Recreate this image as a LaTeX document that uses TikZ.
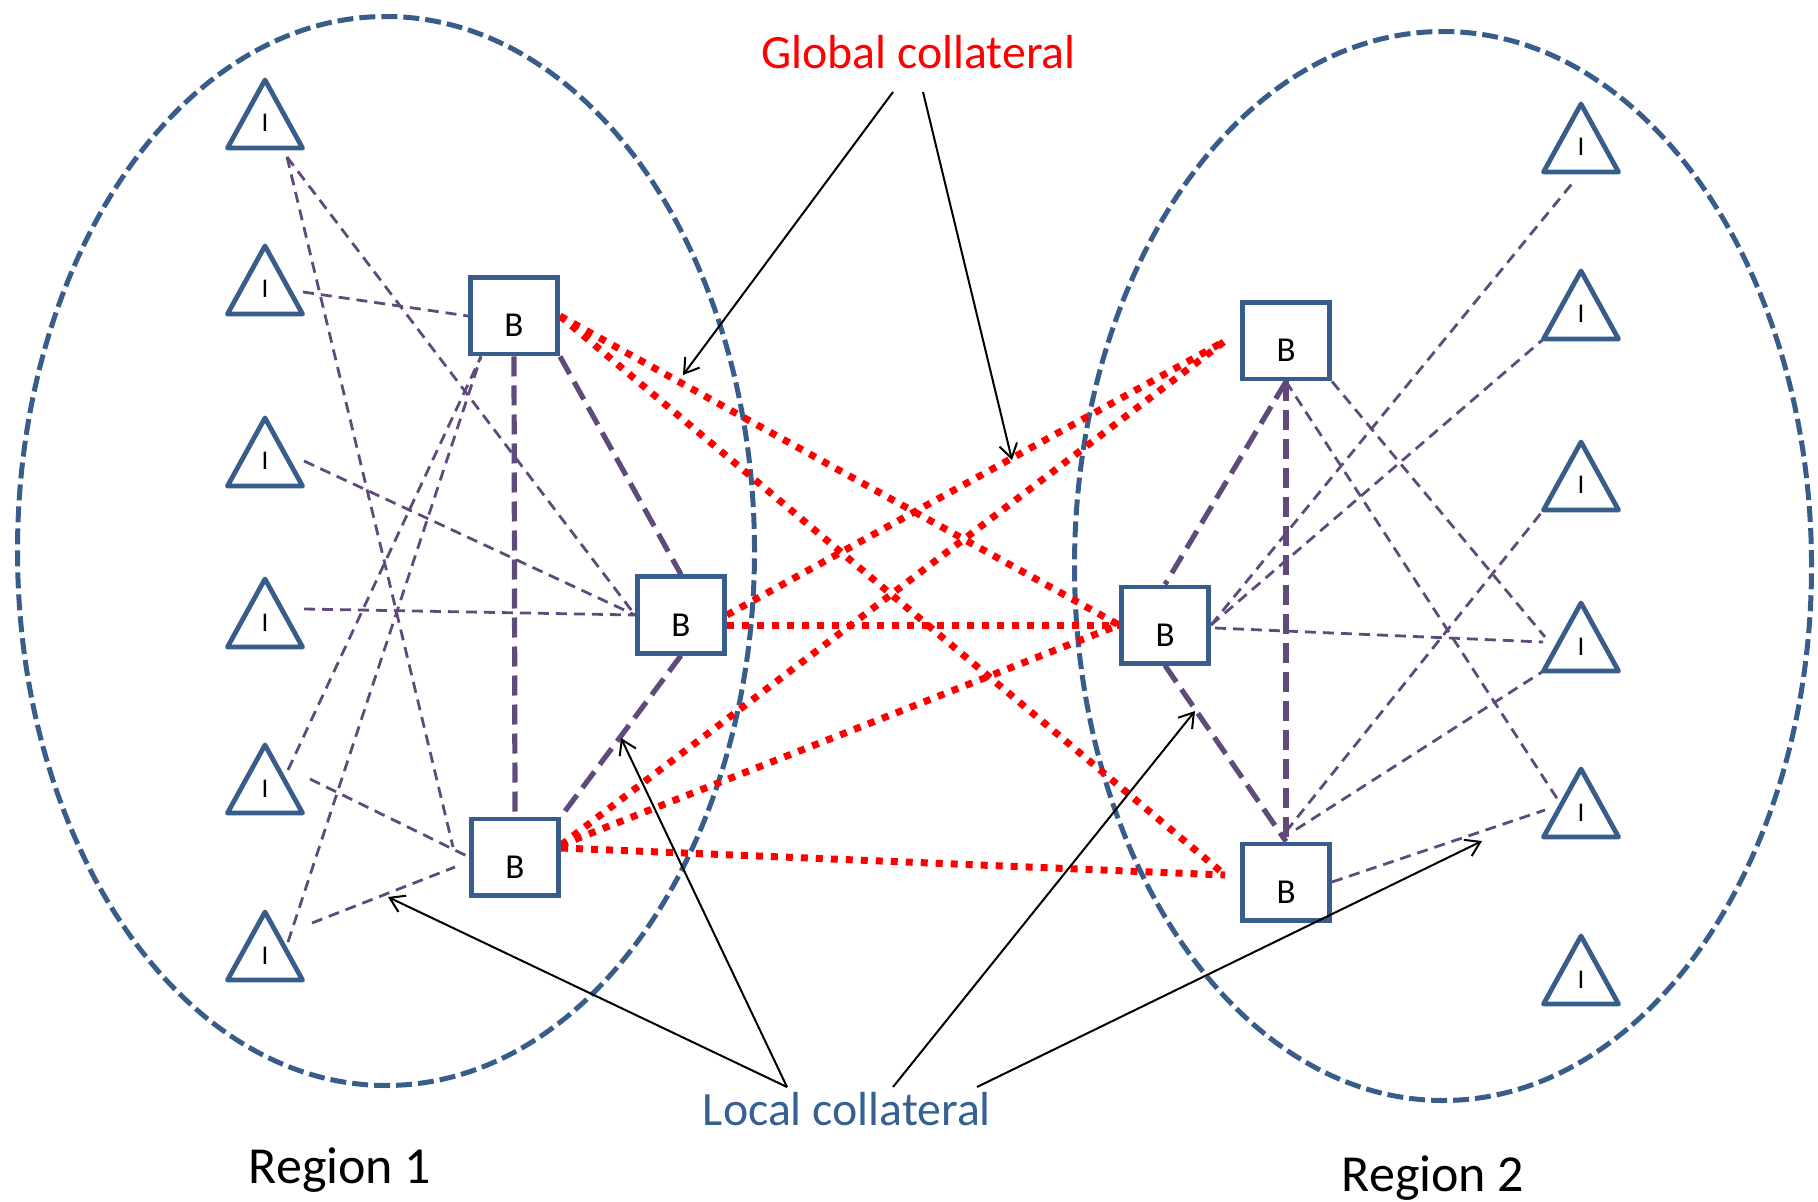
\documentclass[tikz,border=0pt]{standalone}
\usepackage{fontspec}
\setmainfont{Carlito}
\usetikzlibrary{calc,arrows.meta}
\pgfdeclarelayer{bg}
\pgfdeclarelayer{edges}
\pgfsetlayers{bg,edges,main}
\definecolor{outline}{RGB}{56,93,138}
\definecolor{purp}{RGB}{96,74,123}
\definecolor{localblue}{RGB}{55,96,146}
\definecolor{globalred}{RGB}{255,0,0}
\begin{document}
\begin{tikzpicture}[x=0.5pt,y=-0.5pt,
  regionline/.style={draw=outline, line width=2.5pt, dash pattern=on 8pt off 3pt},
  bbox/.style={draw=outline, line width=2.4pt, fill=white, minimum width=43.6pt, minimum height=38.1pt, inner sep=0pt},
  btext/.style={anchor=base, inner sep=0pt, font=\fontsize{17.5pt}{20pt}\selectfont},
  trinode/.style={minimum width=37.5pt, minimum height=34pt, inner sep=0pt, outer sep=0pt},
  triline/.style={draw=outline, line width=2.4pt, line join=round, fill=white},
  itext/.style={anchor=base, inner sep=0pt, font=\fontsize{13.5pt}{16pt}\selectfont},
  linkthin/.style={draw=purp, line width=1.4pt, dash pattern=on 5.5pt off 3.5pt},
  linklocal/.style={draw=purp, line width=2.6pt, dash pattern=on 10pt off 4.5pt},
  linkglobal/.style={draw=globalred, line width=3.5pt, dash pattern=on 3.5pt off 4pt},
  callout/.style={draw=black, line width=1pt, -{Straight Barb[length=7pt,width=9pt]}},
  bigtext/.style={anchor=base, inner sep=0pt, font=\fontsize{23.9pt}{28pt}\selectfont},
  regtext/.style={anchor=base, inner sep=0pt, font=\fontsize{26pt}{30pt}\selectfont}]
\useasboundingbox (0,0) rectangle (1818,1202);

% the two regions
\begin{pgfonlayer}{bg}
  \draw[regionline] (386,551) ellipse [x radius=184.25pt, y radius=267.25pt];
  \draw[regionline] (1443,566) ellipse [x radius=184.25pt, y radius=267.25pt];
\end{pgfonlayer}

% banks
\foreach \n/\x/\y in {B1/514/316, B2/681/615, B3/515/857, B4/1286/341, B5/1165/625, B6/1286/882} {
  \node[bbox] (\n) at (\x,\y) {};
  \node[btext] (\n t) at ($(\n.center)+(0,21)$) {B};
}

% institutions
\foreach \n/\x/\y in {L1/265/114, L2/265/280, L3/265/452, L4/265/613, L5/265/779, L6/265/946,
                      R1/1581/138, R2/1581/305, R3/1581/476, R4/1581/637, R5/1581/803, R6/1581/970} {
  \node[trinode] (\n) at (\x,\y) {};
  \draw[triline] (\n.south west) -- (\n.north) -- (\n.south east) -- cycle;
  \node[itext] (\n t) at ($(\n.north)+(0,52)$) {I};
}

\begin{pgfonlayer}{edges}
  % region 1: institutions to banks
  \draw[linkthin] ($(L1.south)+(22,9)$) -- (B2.west);
  \draw[linkthin] ($(L1.south)+(22,9)$) -- ($(B3.west)+(-16,-10)$);
  \draw[linkthin] ($(L2.center)+(38,12)$) -- (B1.west);
  \draw[linkthin] ($(L3.center)+(39,9)$) -- (B2.west);
  \draw[linkthin] ($(L4.center)+(39,-4)$) -- (B2.west);
  \draw[linkthin] ($(L5.center)+(23,-9)$) -- ($(B1.south west)+(13,0)$);
  \draw[linkthin] ($(L5.center)+(45,0)$) -- (B3.west);
  \draw[linkthin] ($(L6.center)+(23,-4)$) -- ($(B1.south west)+(13,0)$);
  \draw[linkthin] ($(L6.center)+(47,-23)$) -- ($(B3.west)+(-14,10)$);
  % region 2: banks to institutions
  \draw[linkthin] (B5.east) -- ($(R1.south)+(-6,8)$);
  \draw[linkthin] (B5.east) -- (R2.south west);
  \draw[linkthin] ($(B5.east)+(4,3)$) -- ($(R4.center)+(-38,5)$);
  \draw[linkthin] (B4.south east) -- ($(R4.center)+(-36,0)$);
  \draw[linkthin] (B4.south) -- ($(R5.center)+(-23,-3)$);
  \draw[linkthin] ($(B6.north)+(0,-10)$) -- (R3.south west);
  \draw[linkthin] ($(B6.north)+(10,-12)$) -- (R4.south west);
  \draw[linkthin] (B6.east) -- ($(R5.center)+(-36,7)$);
  % local links between banks
  \draw[linklocal] (B1.south) -- (B3.north);
  \draw[linklocal] (B1.south east) -- (B2.north);
  \draw[linklocal] (B2.south) -- (B3.north east);
  \draw[linklocal] (B4.south) -- (B5.north);
  \draw[linklocal] (B4.south) -- (B6.north);
  \draw[linklocal] (B5.south) -- (B6.north);
  % global links across regions
  \draw[linkglobal] (B1.east) -- (B5.west);
  \draw[linkglobal] (B1.east) -- ($(B6.west)+(-15,-7)$);
  \draw[linkglobal] (B2.east) -- ($(B4.west)+(-15,0)$);
  \draw[linkglobal] ($(B2.east)+(0,10)$) -- (B5.west);
  \draw[linkglobal] ($(B3.east)+(0,-12)$) -- ($(B4.west)+(-15,0)$);
  \draw[linkglobal] ($(B3.east)+(0,-12)$) -- (B5.west);
  \draw[linkglobal] ($(B3.east)+(0,-9)$) -- ($(B6.west)+(-15,-7)$);
\end{pgfonlayer}

% labels
\node[bigtext, text=globalred] (gc) at (918.5,69) {Global collateral};
\node[bigtext, text=localblue] (lc) at (847,1125) {Local collateral};
\node[regtext] (r1) at (340,1183) {Region 1};
\node[regtext] (r2) at (1433,1191) {Region 2};

% callout targets
\coordinate (g1) at (683,375);
\coordinate (g2) at (1012,460);
\coordinate (l1) at (388,897);
\coordinate (l2) at (621,738);
\coordinate (l3) at (1195,711);
\coordinate (l4) at (1482,841);

\draw[callout] ($(gc.base)+(-25.5,23)$) -- (g1);
\draw[callout] ($(gc.base)+(4.5,23)$) -- (g2);
\draw[callout] ($(lc.base)+(-60,-38)$) -- (l1);
\draw[callout] ($(lc.base)+(-60,-38)$) -- (l2);
\draw[callout] ($(lc.base)+(46,-38)$) -- (l3);
\draw[callout] ($(lc.base)+(130,-38)$) -- (l4);
\end{tikzpicture}
\end{document}
